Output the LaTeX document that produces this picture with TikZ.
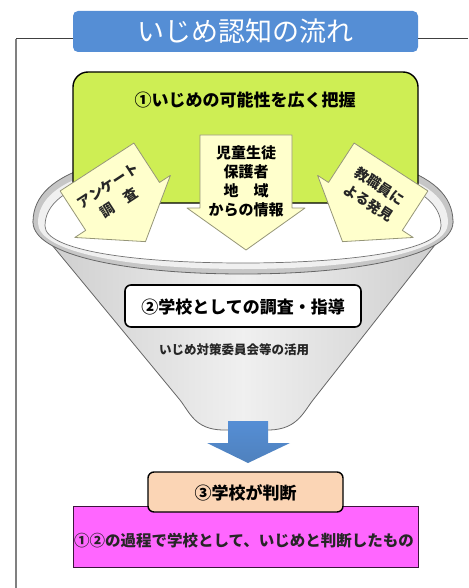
\documentclass[tikz,border=0pt]{standalone}
\usepackage{fontspec}
\newfontfamily\jp{Noto Sans CJK JP}
\definecolor{titleblue}{RGB}{85,142,213}
\definecolor{greenfill}{RGB}{206,238,84}
\definecolor{arrowfill}{RGB}{255,255,204}
\definecolor{arrowline}{RGB}{150,150,120}
\definecolor{peach}{RGB}{251,213,181}
\definecolor{pinkfill}{RGB}{255,102,255}
\definecolor{pinkline}{RGB}{60,20,60}
\definecolor{flowblue}{RGB}{79,129,189}
\tikzset{
  titlebox/.style={fill=titleblue, rounded corners=5pt, minimum width=345pt, minimum height=41pt, inner sep=0,
    text=white, font=\jp\fontsize{27}{30}\selectfont},
  greenbox/.style={fill=greenfill, draw=black, line width=1.4pt, rounded corners=15pt, minimum width=345pt, minimum height=131pt, inner sep=0},
  whitebox/.style={fill=white, draw=black, line width=1.6pt, rounded corners=6pt, inner sep=0},
  peachbox/.style={fill=peach, draw=black, line width=1.4pt, rounded corners=6pt, inner sep=0},
  pinkbox/.style={fill=pinkfill, draw=pinkline, line width=1pt, inner sep=0},
  bigtext/.style={font=\jp\bfseries\fontsize{17}{20}\selectfont, inner sep=0},
  midtext/.style={font=\jp\bfseries\fontsize{15}{19}\selectfont, inner sep=0, align=center},
  smalltext/.style={font=\jp\bfseries\fontsize{14}{20}\selectfont, inner sep=0, text=black!85, align=center},
  subtext/.style={font=\jp\bfseries\fontsize{12.5}{15}\selectfont, inner sep=0, text=black!85},
  yarrow/.style={fill=arrowfill, draw=arrowline, line width=0.8pt, line join=round},
}
\begin{document}
\begin{tikzpicture}[x=1pt,y=-1pt]
\useasboundingbox (0,0) rectangle (468,588);

% frame
\coordinate (fl) at (16,39);
\coordinate (fb) at (16,588);
\coordinate (fr) at (468,39);
\node[titlebox] (title) at (245.5,31.5) {いじめ認知の流れ};
\draw[black!75, line width=1pt] (title.west |- fl) -- (fl);
\draw[black!50, line width=1.6pt] (fl) -- (fb);
\draw[black!75, line width=1pt] (title.east |- fr) -- (fr);

% funnel cone
\path[draw=black!60, line width=0.8pt, left color=gray!40, right color=gray!40, middle color=gray!12]
  (33,222) -- (180,400) .. controls (190,413) and (195,429) .. (222,430) -- (270,430)
  .. controls (297,429) and (303,413) .. (313,400) -- (453,222) -- cycle;
% rim
\path[fill=gray!45, draw=black!60, line width=0.8pt]
  (33,222) .. controls (33,168) and (120,150) .. (243,150) .. controls (366,150) and (453,168) .. (453,222)
  .. controls (453,255) and (360,274) .. (243,274) .. controls (126,274) and (33,255) .. (33,222) -- cycle;
\path[fill=gray!12]
  (38,223) .. controls (38,175) and (124,157) .. (243,157) .. controls (362,157) and (448,175) .. (448,223)
  .. controls (448,252) and (358,269) .. (243,269) .. controls (128,269) and (38,252) .. (38,223) -- cycle;
\path[fill=white, draw=black!55, line width=0.7pt]
  (45,226) .. controls (45,182) and (128,165) .. (243,165) .. controls (358,165) and (441,182) .. (441,226)
  .. controls (441,250) and (354,263) .. (243,263) .. controls (132,263) and (45,250) .. (45,226) -- cycle;

% green box
\node[greenbox] (green) at (245.5,137.5) {};
\node[bigtext] (g1) at (245,100) {①いじめの可能性を広く把握};

% centre arrow
\path[yarrow] (200,135) -- (292,135) -- (292,208) -- (305,208) -- (246,250) -- (187,208) -- (200,208) -- cycle;
\node[midtext] (ca) at (246,181) {児童生徒\\保護者\\地　域\\からの情報};

% left arrow
\begin{scope}[shift={(97,167)}, rotate=33]
  \path[yarrow] (-44,0) -- (44,0) -- (44,47) -- (57,47) -- (0,89) -- (-57,47) -- (-44,47) -- cycle;
  \node[smalltext, rotate=33] (la) at (-1,32) {アンケート\\調　査};
\end{scope}

% right arrow
\begin{scope}[shift={(391,167)}, rotate=-33]
  \path[yarrow] (-44,0) -- (44,0) -- (44,47) -- (57,47) -- (0,89) -- (-57,47) -- (-44,47) -- cycle;
  \node[smalltext, rotate=-33] (ra) at (1,32) {教職員に\\よる発見};
\end{scope}

% step 2
\node[whitebox, minimum width=236pt, minimum height=42pt] (b2) at (243,306) {};
\node[bigtext] (b2t) at (243,307) {②学校としての調査・指導};
\node[subtext] (b2sub) at (234,350) {いじめ対策委員会等の活用};

% blue arrow
\path[top color=titleblue, bottom color=flowblue]
  (228,421) -- (268,421) -- (268,443) -- (290,443) -- (248,463) -- (207,443) -- (228,443) -- cycle;

% result boxes
\node[pinkbox, minimum width=345pt, minimum height=61pt] (pink) at (245.5,536.5) {};
\node[peachbox, minimum width=195pt, minimum height=40pt] (b3) at (245.5,492) {};
\node[bigtext] (b3t) at (245.5,493) {③学校が判断};
\node[font=\jp\bfseries\fontsize{15.5}{18}\selectfont, inner sep=0, text=black!85] (pt) at (244,541) {①②の過程で学校として、いじめと判断したもの};
\end{tikzpicture}
\end{document}
